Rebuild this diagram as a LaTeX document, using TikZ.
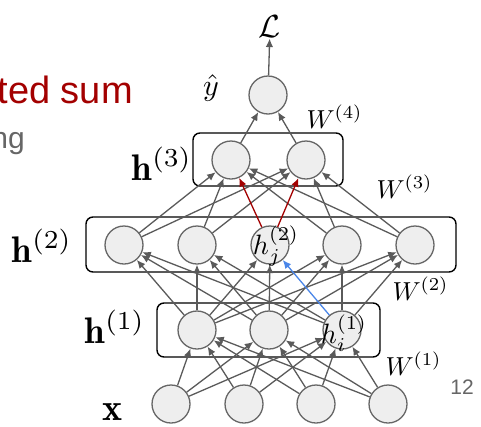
\documentclass[tikz,border=0pt]{standalone}
\usepackage{amsmath,amssymb}
\usepackage{fontspec}
\newfontfamily\arialf{Liberation Sans}
\usetikzlibrary{arrows.meta}
\definecolor{edgegray}{HTML}{5A5A5A}
\definecolor{nodefill}{HTML}{EEEEEE}
\definecolor{nodeline}{HTML}{666666}
\definecolor{darkred}{HTML}{A30000}
\definecolor{blueedge}{HTML}{4A86E8}
\definecolor{txtgray}{HTML}{666666}
\tikzset{
  neuron/.style={circle, draw=nodeline, fill=nodefill, line width=1.3pt, minimum size=38pt, inner sep=0pt},
  layerbox/.style={draw=black, line width=1.4pt, rounded corners=7pt},
  conn/.style={draw=edgegray, line width=1.3pt, -{Latex[length=8.5pt,width=7.5pt]}},
  redconn/.style={conn, draw=darkred, -{Latex[length=8.5pt,width=7.5pt,fill=darkred]}},
  blueconn/.style={conn, draw=blueedge, -{Latex[length=8.5pt,width=7.5pt,fill=blueedge]}},
  mlabel/.style={scale=2.6, inner sep=0pt},
  hlabel/.style={scale=3.7, inner sep=0pt, anchor=base},
  inlabel/.style={scale=2.8, inner sep=0pt}
}
\begin{document}
\begin{tikzpicture}[x=1pt,y=-1pt]
\useasboundingbox (0,0) rectangle (481,426);
% side texts
\node[anchor=base east, inner sep=0pt, text=darkred, font=\arialf\fontsize{38}{40}\selectfont] (ts) at (133,103) {ted sum};
\node[anchor=base east, inner sep=0pt, text=txtgray, font=\arialf\fontsize{30}{34}\selectfont] (ng) at (25,148) {ng};
% boxes
\draw[layerbox] (193,133) rectangle (343,186);
\draw[layerbox] (86,217) rectangle (456,272);
\draw[layerbox] (157,303) rectangle (380,357);
% nodes
\node[neuron] (yh) at (268,95) {};
\node[neuron] (a1) at (231,160) {};
\node[neuron] (a2) at (306,160) {};
\node[neuron] (b1) at (124,245) {};
\node[neuron] (b2) at (197,245) {};
\node[neuron] (b3) at (270,245) {};
\node[neuron] (b4) at (342,245) {};
\node[neuron] (b5) at (415,245) {};
\node[neuron] (c1) at (197,330) {};
\node[neuron] (c2) at (269,330) {};
\node[neuron] (c3) at (342,330) {};
\node[neuron] (d1) at (171,404) {};
\node[neuron] (d2) at (244,404) {};
\node[neuron] (d3) at (316,404) {};
\node[neuron] (d4) at (388,404) {};
\node[scale=3.2, inner sep=0pt] (L) at (270,27) {$\mathcal{L}$};
% edges
\foreach \s in {d1,d2,d3,d4} \foreach \t in {c1,c2,c3} \draw[conn] (\s) -- (\t);
\foreach \s in {c1,c2} \foreach \t in {b1,b2,b3,b4,b5} \draw[conn] (\s) -- (\t);
\foreach \t in {b1,b2,b4,b5} \draw[conn] (c3) -- (\t);
\draw[blueconn] (c3) -- (b3);
\foreach \s in {b1,b2,b4,b5} \foreach \t in {a1,a2} \draw[conn] (\s) -- (\t);
\draw[redconn] (b3) -- (a1);
\draw[redconn] (b3) -- (a2);
\draw[conn] (a1) -- (yh);
\draw[conn] (a2) -- (yh);
\draw[conn] (yh) -- (L);
% inner labels
\node[inlabel] (hj) at (276,246) {$h_j^{(2)}$};
\node[inlabel] (hi) at (344,333) {$h_i^{(1)}$};
% side labels
\node[scale=3.0, inner sep=0pt] (ylab) at (211,88) {$\hat{y}$};
\node[hlabel] (h3) at (162,180) {$\mathbf{h}^{(3)}$};
\node[hlabel] (h2) at (42,262) {$\mathbf{h}^{(2)}$};
\node[hlabel] (h1) at (115,343) {$\mathbf{h}^{(1)}$};
\node[scale=3.8, inner sep=0pt, anchor=base] (xl) at (113,420) {$\mathbf{x}$};
\node[mlabel, anchor=base west] (w4) at (306,128) {$W^{(4)}$};
\node[mlabel, anchor=base west] (w3) at (376,198) {$W^{(3)}$};
\node[mlabel, anchor=base west] (w2) at (392,300) {$W^{(2)}$};
\node[mlabel, anchor=base west] (w1) at (385,375) {$W^{(1)}$};
\node[inner sep=0pt, text=txtgray, font=\arialf\fontsize{21}{24}\selectfont] (pg) at (462,387) {12};
\end{tikzpicture}
\end{document}
